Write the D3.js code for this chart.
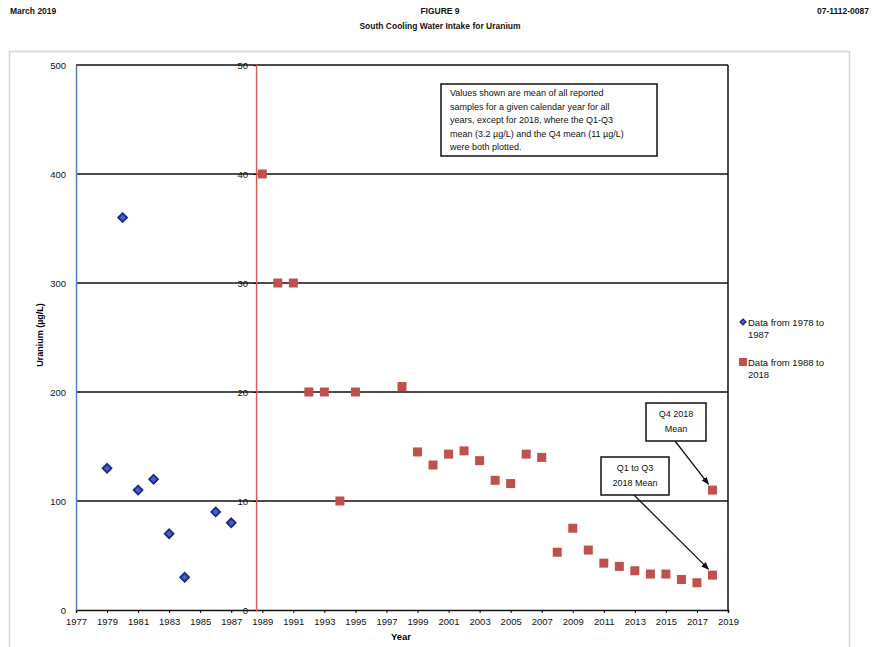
<!DOCTYPE html>
<html><head><meta charset="utf-8">
<script src="https://cdn.jsdelivr.net/npm/d3@7/dist/d3.min.js"></script>
<style>body{margin:0;background:#fff}svg{display:block}text{font-family:"Liberation Sans",Arial,sans-serif}</style>
</head><body><svg id="c" width="881" height="647"></svg>
<script>
// Data
const earlyYears = [1979, 1980, 1981, 1982, 1983, 1984, 1986, 1987];
const earlyValues = [130, 360, 110, 120, 70, 30, 90, 80];
const lateYears = [1989, 1990, 1991, 1992, 1993, 1994, 1995, 1998, 1999, 2000, 2001, 2002, 2003, 2004, 2005, 2006, 2007, 2008, 2009, 2010, 2011, 2012, 2013, 2014, 2015, 2016, 2017, 2018, 2018];
const lateValues = [40, 30, 30, 20, 20, 10, 20, 20.5, 14.5, 13.3, 14.3, 14.6, 13.7, 11.9, 11.6, 14.3, 14.0, 5.3, 7.5, 5.5, 4.3, 4.0, 3.6, 3.3, 3.3, 2.8, 2.5, 3.2, 11];
const xTicks = d3.range(1977, 2020, 2);
const yTicksPrimary = [0, 100, 200, 300, 400, 500];
const yTicksSecondary = [0, 10, 20, 30, 40, 50];
const secondaryAxisYear = 1988.6;
const legendLabels = [["Data from 1978 to", "1987"], ["Data from 1988 to", "2018"]];
const noteLines = ["Values shown are mean of all reported", "samples for a given calendar year for all", "years, except for 2018, where the Q1-Q3", "mean (3.2 \u00b5g/L) and the Q4 mean (11 \u00b5g/L)", "were both plotted."];

const svg = d3.select("#c");
const L = 76, R = 728, T = 65, B = 610;
const x = d3.scaleLinear().domain([1977, 2019]).range([L, R]);
const y1 = d3.scaleLinear().domain([0, 500]).range([B, T]);
const y2 = d3.scaleLinear().domain([0, 50]).range([B, T]);

// outer chart border
svg.append("rect").attr("x", 9.5).attr("y", 51.5).attr("width", 840).attr("height", 620)
  .attr("fill", "none").attr("stroke", "#d4d4d4").attr("stroke-width", 1.5);

// header
const hdr = svg.append("g").attr("font-weight", "bold").attr("font-size", 8.5).attr("fill", "#111");
hdr.append("text").attr("x", 10).attr("y", 14).text("March 2019");
hdr.append("text").attr("x", 869).attr("y", 14).attr("text-anchor", "end").text("07-1112-0087");
hdr.append("text").attr("x", 440).attr("y", 14).attr("text-anchor", "middle").text("FIGURE 9");
hdr.append("text").attr("x", 440).attr("y", 29).attr("text-anchor", "middle").text("South Cooling Water Intake for Uranium");

// gridlines
svg.append("g").selectAll("line").data(yTicksPrimary.slice(1)).join("line")
  .attr("x1", L).attr("x2", R).attr("y1", d => y1(d)).attr("y2", d => y1(d))
  .attr("stroke", "#111").attr("stroke-width", 1.5);
// right border
svg.append("line").attr("x1", R).attr("x2", R).attr("y1", T).attr("y2", B).attr("stroke", "#111").attr("stroke-width", 1.5);

// x axis
const xAxis = svg.append("g").attr("transform", `translate(0,${B})`)
  .call(d3.axisBottom(x).tickValues(xTicks).tickFormat(d3.format("d")).tickSize(3));
xAxis.select(".domain").attr("stroke", "#111").attr("stroke-width", 1.5);
xAxis.selectAll("text").attr("font-size", 9.5).attr("fill", "#111").attr("dy", "0.9em");

// primary y axis
const yA = svg.append("g").attr("transform", `translate(${L},0)`)
  .call(d3.axisLeft(y1).tickValues(yTicksPrimary).tickSize(0).tickPadding(10));
yA.select(".domain").attr("stroke", "#4f81bd").attr("stroke-width", 1.5);
yA.selectAll("text").attr("font-size", 9.5).attr("fill", "#111");

// secondary y axis (red)
const xs = x(secondaryAxisYear);
const yB = svg.append("g").attr("transform", `translate(${xs},0)`)
  .call(d3.axisLeft(y2).tickValues(yTicksSecondary).tickSize(3).tickPadding(5));
yB.select(".domain").attr("stroke", "#d0605c").attr("stroke-width", 1.5);
yB.selectAll(".tick line").attr("stroke", "#111");
yB.selectAll("text").attr("font-size", 9.5).attr("fill", "#111");

// axis titles
svg.append("text").attr("transform", "translate(43,335) rotate(-90)").attr("text-anchor", "middle")
  .attr("font-size", 9).attr("font-weight", "bold").text("Uranium (\u00b5g/L)");
svg.append("text").attr("x", 401).attr("y", 640).attr("text-anchor", "middle")
  .attr("font-size", 9.5).attr("font-weight", "bold").text("Year");

// early series (diamonds)
const diamond = d3.symbol().type(d3.symbolDiamond2).size(50);
svg.append("g").selectAll("path").data(earlyYears.map((d, i) => [d, earlyValues[i]])).join("path")
  .attr("d", diamond).attr("transform", d => `translate(${x(d[0])},${y1(d[1])})`)
  .attr("fill", "#4660c4").attr("stroke", "#1b2a80").attr("stroke-width", 1.8);

// late series (squares)
const sq = 9;
svg.append("g").selectAll("rect").data(lateYears.map((d, i) => [d, lateValues[i]])).join("rect")
  .attr("x", d => x(d[0]) - sq / 2).attr("y", d => y2(d[1]) - sq / 2)
  .attr("width", sq).attr("height", sq).attr("fill", "#c0504d");

// note box
svg.append("rect").attr("x", 441).attr("y", 84).attr("width", 216).attr("height", 72)
  .attr("fill", "#fff").attr("stroke", "#111").attr("stroke-width", 1.5);
svg.append("g").selectAll("text").data(noteLines).join("text")
  .attr("x", 450).attr("y", (d, i) => 96 + i * 13.6).attr("font-size", 9).attr("fill", "#111").text(d => d);

// callouts
const defs = svg.append("defs");
defs.append("marker").attr("id", "ah").attr("viewBox", "0 0 10 10").attr("refX", 9).attr("refY", 5)
  .attr("markerWidth", 6).attr("markerHeight", 6).attr("orient", "auto")
  .append("path").attr("d", "M0,1 L10,5 L0,9 z").attr("fill", "#111");

function callout(bx, by, bw, bh, lines, fromX, yr, val) {
  svg.append("line").attr("x1", fromX).attr("y1", by + bh).attr("x2", x(yr) - 4).attr("y2", y2(val) - 6)
    .attr("stroke", "#111").attr("stroke-width", 1.3).attr("marker-end", "url(#ah)");
  svg.append("rect").attr("x", bx).attr("y", by).attr("width", bw).attr("height", bh)
    .attr("fill", "#fff").attr("stroke", "#111").attr("stroke-width", 1.5);
  lines.forEach((t, i) => svg.append("text").attr("x", bx + bw / 2).attr("y", by + 14 + i * 14.5)
    .attr("text-anchor", "middle").attr("font-size", 9).attr("fill", "#111").text(t));
}
callout(646, 403, 60, 38, ["Q4 2018", "Mean"], 675, 2018, 11);
callout(601, 457, 68, 38, ["Q1 to Q3", "2018 Mean"], 634, 2018, 3.2);

// legend
const lg = svg.append("g");
lg.append("path").attr("d", d3.symbol().type(d3.symbolDiamond2).size(22)())
  .attr("transform", "translate(743,322)").attr("fill", "#4660c4").attr("stroke", "#1b2a80").attr("stroke-width", 1.3);
lg.append("rect").attr("x", 739).attr("y", 358).attr("width", 8).attr("height", 8).attr("fill", "#c0504d");
legendLabels.forEach((ls, k) => ls.forEach((t, i) => lg.append("text")
  .attr("x", 748).attr("y", 326 + k * 40 + i * 11.5).attr("font-size", 9.5).attr("fill", "#111").text(t)));
</script></body></html>
